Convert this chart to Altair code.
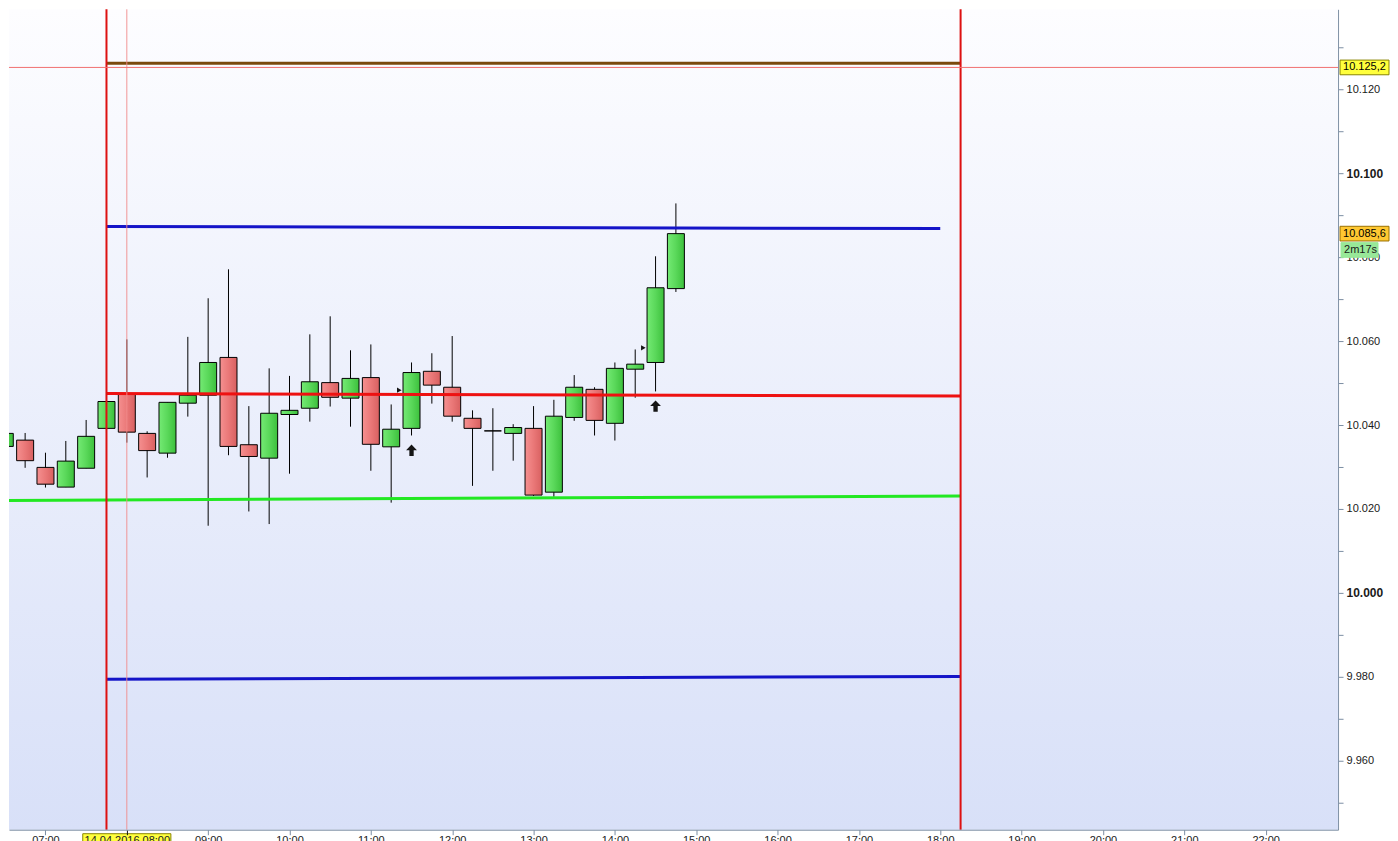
import altair as alt
import pandas as pd

# ---------------- data ----------------
times = ["06:30", "06:45", "07:00", "07:15", "07:30", "07:45", "08:00", "08:15",
         "08:30", "08:45", "09:00", "09:15", "09:30", "09:45", "10:00", "10:15",
         "10:30", "10:45", "11:00", "11:15", "11:30", "11:45", "12:00", "12:15",
         "12:30", "12:45", "13:00", "13:15", "13:30", "13:45", "14:00", "14:15",
         "14:30", "14:45"]
opens = [10034.9, 10036.4, 10029.9, 10025.2, 10029.7, 10039.2, 10047.5, 10038.0,
         10033.3, 10045.2, 10047.1, 10056.1, 10035.3, 10032.1, 10042.5, 10044.0,
         10050.1, 10046.4, 10051.3, 10034.8, 10039.2, 10052.8, 10049.0, 10041.6,
         10038.6, 10038.0, 10039.2, 10024.0, 10041.8, 10048.5, 10040.4, 10053.3,
         10054.9, 10072.5]
highs = [10038.0, 10038.1, 10033.4, 10036.2, 10041.2, 10047.8, 10060.4, 10038.5,
         10045.4, 10061.0, 10070.2, 10077.1, 10044.5, 10053.5, 10051.7, 10061.6,
         10065.9, 10057.8, 10059.2, 10044.9, 10054.9, 10057.1, 10061.2, 10043.5,
         10044.0, 10040.2, 10044.5, 10046.0, 10051.9, 10049.0, 10054.9, 10058.0,
         10080.2, 10092.8]
lows = [10033.2, 10029.8, 10025.1, 10025.2, 10029.7, 10038.2, 10035.8, 10027.5,
        10032.2, 10042.0, 10016.0, 10032.8, 10019.4, 10016.4, 10028.4, 10040.8,
        10044.4, 10039.6, 10029.1, 10021.5, 10037.5, 10045.1, 10040.8, 10025.5,
        10029.1, 10031.5, 10023.1, 10022.9, 10041.0, 10037.5, 10036.3, 10046.5,
        10048.0, 10071.7]
closes = [10038.0, 10031.5, 10025.9, 10031.4, 10037.3, 10045.6, 10038.3, 10033.9,
          10045.4, 10047.1, 10054.9, 10034.9, 10032.5, 10042.8, 10043.5, 10050.3,
          10046.6, 10051.1, 10035.4, 10039.0, 10052.5, 10049.5, 10042.1, 10039.2,
          10038.6, 10039.4, 10023.3, 10042.1, 10049.0, 10041.1, 10053.5, 10054.5,
          10072.7, 10085.6]

# horizontal levels (start time, end time, start price, end price, colour)
level_start_time = ["07:45", "07:45", "07:45", "06:27", "07:45"]
level_end_time = ["18:15", "18:00", "18:15", "18:15", "18:15"]
level_start_val = [10126.2, 10087.3, 10047.5, 10022.0, 9979.4]
level_end_val = [10126.2, 10086.8, 10046.9, 10023.1, 9980.1]
level_colors = ["#7a4a0c", "#1414c8", "#ee1111", "#22e822", "#1414c8"]

session_lines = ["07:45", "18:15"]
crosshair_time = "08:00"
crosshair_price = 10125.2
crosshair_label = "10.125,2"
last_price = 10085.6
last_label = "10.085,6"
countdown_label = "2m17s"
countdown_price = 10081.7

arrow_times = ["11:30", "14:30"]
arrow_prices = [10034.0, 10044.5]
marker_times = ["11:21", "14:21"]
marker_prices = [10048.3, 10058.4]

hour_ticks = ["07:00", "08:00", "09:00", "10:00", "11:00", "12:00", "13:00", "14:00",
              "15:00", "16:00", "17:00", "18:00", "19:00", "20:00", "21:00", "22:00"]
price_ticks = [9950, 9960, 9970, 9980, 9990, 10000, 10010, 10020, 10030, 10040,
               10050, 10060, 10070, 10080, 10090, 10100, 10110, 10120, 10130]
date_label = "14.04.2016 08:00"


def hm(s):
    h, m = s.split(":")
    return int(h) * 60 + int(m)


# ---------------- scales / axes ----------------
W, H = 1330, 821
x_scale = alt.Scale(domain=[393.1, 1373.4], nice=False, zero=False, padding=0)
y_scale = alt.Scale(domain=[9943.57, 10139.05], nice=False, zero=False, padding=0)
FONT = "Liberation Sans"
AXC = "#7b8ea3"

x_axis = alt.Axis(
    values=[hm(s) for s in hour_ticks], title=None, grid=False, orient="bottom",
    labelExpr=f"datum.value === {hm(crosshair_time)} ? '{date_label}' : "
              "((datum.value < 600 ? '0' : '') + floor(datum.value / 60) + ':00')",
    tickSize=5, tickColor={"expr": f"datum.value === {hm(crosshair_time)} ? '#111111' : '{AXC}'"},
    domainColor=AXC, labelFont=FONT, labelFontSize=11, labelColor="#222222",
    labelPadding=0, labelOverlap=False, labelFlush=False, zindex=1,
)
y_axis = alt.Axis(
    values=price_ticks, title=None, grid=False, orient="right",
    labelExpr="datum.value % 20 === 0 ? replace(format(datum.value, ','), ',', '.') : ''",
    labelFontWeight={"expr": "datum.value % 100 === 0 ? 'bold' : 'normal'"},
    labelFontSize={"expr": "datum.value % 100 === 0 ? 12 : 11"},
    tickSize=5, tickColor=AXC, domainColor=AXC, labelFont=FONT,
    labelColor="#1a1a1a", labelPadding=3, labelOverlap=False, labelFlush=False,
)


def X(f):
    return alt.X(f, type="quantitative", scale=x_scale, axis=x_axis)


def Y(f):
    return alt.Y(f, type="quantitative", scale=y_scale, axis=y_axis)


candles = pd.DataFrame({"t": [hm(s) for s in times], "o": opens, "h": highs,
                        "l": lows, "c": closes})
levels = pd.DataFrame({"t1": [hm(s) for s in level_start_time],
                       "t2": [hm(s) for s in level_end_time],
                       "v1": level_start_val, "v2": level_end_val, "col": level_colors})
sessions = pd.DataFrame({"t": [hm(s) for s in session_lines]})
cross_v = pd.DataFrame({"t": [hm(crosshair_time)]})
cross_h = pd.DataFrame({"v": [crosshair_price]})
arrows = pd.DataFrame({"t": [hm(s) for s in arrow_times], "v": arrow_prices})
markers = pd.DataFrame({"t": [hm(s) for s in marker_times], "v": marker_prices})
tags = pd.DataFrame({"v": [crosshair_price, last_price], "label": [crosshair_label, last_label],
                     "fill": ["#ffff3c", "#ffc832"], "stroke": ["#8a8400", "#9a7000"]})
timer = pd.DataFrame({"v": [countdown_price], "label": [countdown_label]})
date_box = pd.DataFrame({"t": [hm(crosshair_time)]})
one = pd.DataFrame({"a": [0]})

green_grad = alt.LinearGradient(gradient="linear", x1=0, x2=1, y1=0, y2=0, stops=[
    alt.GradientStop(color="#74ea74", offset=0), alt.GradientStop(color="#5ad85a", offset=0.5),
    alt.GradientStop(color="#3cc03c", offset=1)])
red_grad = alt.LinearGradient(gradient="linear", x1=0, x2=1, y1=0, y2=0, stops=[
    alt.GradientStop(color="#f59090", offset=0), alt.GradientStop(color="#ea7878", offset=0.5),
    alt.GradientStop(color="#d86060", offset=1)])
bg_grad = alt.LinearGradient(gradient="linear", x1=0, x2=0, y1=0, y2=1, stops=[
    alt.GradientStop(color="#fdfdff", offset=0), alt.GradientStop(color="#d8e0f8", offset=1)])

background = alt.Chart(one).mark_rect(fill=bg_grad, strokeWidth=0).encode(
    x=alt.value(0), x2=alt.value(W), y=alt.value(0), y2=alt.value(H))

wicks = alt.Chart(candles).mark_rule(color="#000000", strokeWidth=1, clip=True).encode(
    x=X("t"), y=Y("l"), y2="h")
up = alt.Chart(candles).transform_filter("datum.c >= datum.o").mark_bar(
    size=17, fill=green_grad, stroke="#000000", strokeWidth=1, clip=True, opacity=1).encode(
    x=X("t"), y=Y("o"), y2="c")
down = alt.Chart(candles).transform_filter("datum.c < datum.o").mark_bar(
    size=17, fill=red_grad, stroke="#000000", strokeWidth=1, clip=True, opacity=1).encode(
    x=X("t"), y=Y("o"), y2="c")

level_lines = alt.Chart(levels).mark_rule(strokeWidth=3, clip=True).encode(
    x=X("t1"), x2="t2", y=Y("v1"), y2="v2", color=alt.Color("col:N", scale=None))
session_rules = alt.Chart(sessions).mark_rule(color="#dd1111", strokeWidth=2).encode(x=X("t"))
cross_x = alt.Chart(cross_v).mark_rule(color="#f08a8a", strokeWidth=1, opacity=0.9).encode(x=X("t"))
cross_y = alt.Chart(cross_h).mark_rule(color="#f07070", strokeWidth=1, opacity=1).encode(y=Y("v"))

arrow_path = "M0,-1L0.95,0L0.38,0L0.38,1L-0.38,1L-0.38,0L-0.95,0Z"
arrow_marks = alt.Chart(arrows).mark_point(shape=arrow_path, filled=True, size=130,
                                           color="#151515", opacity=1).encode(x=X("t"), y=Y("v"))
marker_marks = alt.Chart(markers).mark_point(shape="triangle-right", filled=True, size=28,
                                             color="#151515", opacity=1).encode(x=X("t"), y=Y("v"))

tag_boxes = alt.Chart(tags).transform_calculate(top="datum.v + 1.75", bot="datum.v - 1.75").mark_rect(
    strokeWidth=1).encode(
    x=alt.value(1332), x2=alt.value(1381), y=Y("top:Q"), y2="bot:Q",
    fill=alt.Fill("fill:N", scale=None), stroke=alt.Stroke("stroke:N", scale=None))
tag_text = alt.Chart(tags).mark_text(align="left", baseline="middle", font=FONT, fontSize=11,
                                     color="#000000").encode(
    x=alt.value(1335), y=Y("v:Q"), text="label:N")
timer_box = alt.Chart(timer).transform_calculate(top="datum.v + 1.75", bot="datum.v - 1.75").mark_rect(
    fill="#98e898", stroke="#98e898").encode(x=alt.value(1333), x2=alt.value(1370), y=Y("top:Q"), y2="bot:Q")
timer_text = alt.Chart(timer).mark_text(align="left", baseline="middle", font=FONT, fontSize=11,
                                        color="#1a1a1a").encode(
    x=alt.value(1336), y=Y("v:Q"), text="label:N")

date_bg = alt.Chart(date_box).transform_calculate(a="datum.t - 32.5", b="datum.t + 32.5").mark_rect(
    fill="#ffff3c", stroke="#8a8400", strokeWidth=1).encode(
    x=X("a:Q"), x2="b:Q", y=alt.value(825), y2=alt.value(845))

chart = alt.layer(
    background, wicks, up, down, level_lines, session_rules, cross_x, cross_y,
    arrow_marks, marker_marks, tag_boxes, tag_text, timer_box, timer_text, date_bg,
).properties(width=W, height=H, padding=0).configure_view(strokeWidth=0)

chart.save("out.html", embed_options={"renderer": "svg", "actions": False})
